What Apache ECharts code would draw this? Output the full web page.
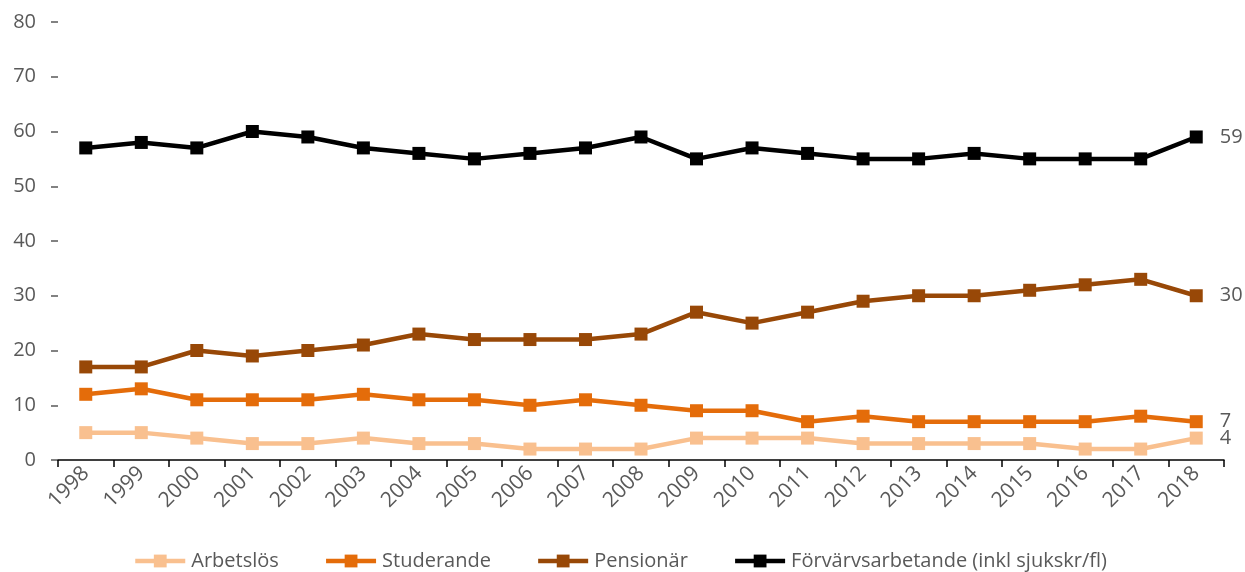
<!DOCTYPE html>
<html><head><meta charset="utf-8">
<script src="https://cdn.jsdelivr.net/npm/echarts@6/dist/echarts.min.js"></script>
<style>html,body{margin:0;padding:0;background:#fff}#c{width:1245px;height:572px}</style>
</head><body><div id="c"></div>
<script>
const years = ['1998','1999','2000','2001','2002','2003','2004','2005','2006','2007','2008','2009','2010','2011','2012','2013','2014','2015','2016','2017','2018'];
const arbetslos = [5,5,4,3,3,4,3,3,2,2,2,4,4,4,3,3,3,3,2,2,4];
const studerande = [12,13,11,11,11,12,11,11,10,11,10,9,9,7,8,7,7,7,7,8,7];
const pensionar = [17,17,20,19,20,21,23,22,22,22,23,27,25,27,29,30,30,31,32,33,30];
const forvarvs = [57,58,57,60,59,57,56,55,56,57,59,55,57,56,55,55,56,55,55,55,59];
const yTicks = [0,10,20,30,40,50,60,70,80];

const FONT = 'Open Sans';
const TXT = '#595959';
function mk(name, data, color){
  return {
    name, type:'line', data,
    symbol:'rect', symbolSize:13,
    lineStyle:{width:4.5,color}, itemStyle:{color},
    label:{show:true, position:'right', distance:17, fontFamily:FONT, fontSize:20, color:TXT,
      formatter:p=> p.dataIndex===data.length-1 ? p.value : ''},
    emphasis:{disabled:true}, animation:false
  };
}
const chart = echarts.init(document.getElementById('c'));
chart.setOption({
  animation:false,
  grid:{left:58, right:21, top:22, bottom:112, containLabel:false},
  legend:{top:546, left:128, itemWidth:50, itemHeight:16, itemGap:45,
    lineStyle:{width:4.5},
    textStyle:{fontFamily:FONT, fontSize:20, color:TXT, padding:[0,0,0,1]},
    data:['Arbetslös','Studerande','Pensionär','Förvärvsarbetande (inkl sjukskr/fl)']},
  xAxis:{type:'category', data:years, boundaryGap:true,
    axisLine:{lineStyle:{color:'#000', width:1.5}},
    axisTick:{show:true, alignWithLabel:false, length:7, lineStyle:{color:'#000',width:1.5}},
    axisLabel:{rotate:45, fontFamily:FONT, fontSize:21, color:TXT, margin:10, interval:0}},
  yAxis:{type:'value', min:yTicks[0], max:yTicks[yTicks.length-1], interval:10,
    splitLine:{show:false}, axisLine:{show:false},
    axisTick:{show:true, length:7, lineStyle:{color:'#595959', width:1.5}},
    axisLabel:{fontFamily:FONT, fontSize:20, color:TXT, margin:22}},
  series:[mk('Arbetslös',arbetslos,'#F9C08F'), mk('Studerande',studerande,'#E46C0A'),
          mk('Pensionär',pensionar,'#984807'), mk('Förvärvsarbetande (inkl sjukskr/fl)',forvarvs,'#000000')]
});
</script></body></html>
